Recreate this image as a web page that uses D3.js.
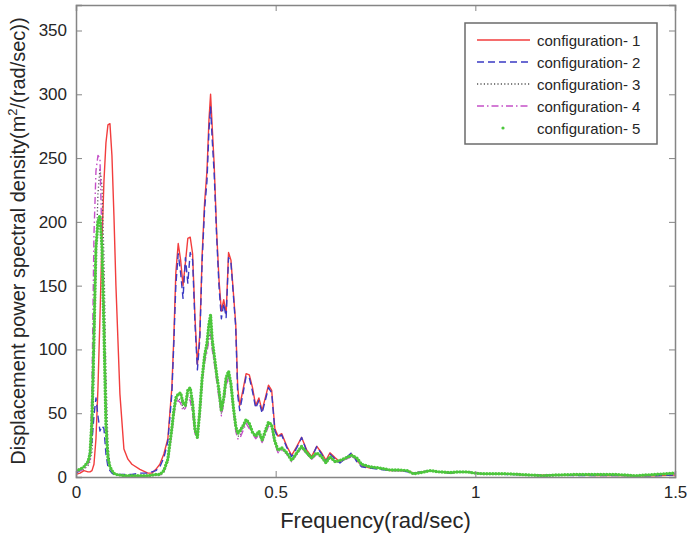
<!DOCTYPE html>
<html lang="en">
<head>
    <meta charset="UTF-8">
    <title>Displacement PSD</title>
    <script src="https://d3js.org/d3.v7.min.js"></script>
    <style>
        body {
            margin: 0;
            background: #fff;
        }
        svg text {
            font-family: "Liberation Sans", Arial, sans-serif;
            fill: #262626;
        }
        .axis path, .axis line {
            stroke: #858585;
        }
    </style>
</head>
<body>
    <div id="chart"></div>
    <script>
        // frequency grid (rad/sec), shared by all five configurations
        const freq = [
            0, 0.01, 0.02, 0.03, 0.035, 0.04, 0.045, 0.05, 0.055, 0.06, 0.065, 0.07, 0.075, 0.08, 0.085, 0.09, 0.095, 0.1, 0.11, 0.12, 0.13, 0.14, 0.16, 0.18, 0.19, 0.2,
            0.21, 0.22, 0.23, 0.24, 0.245, 0.25, 0.256, 0.262, 0.268, 0.274, 0.28, 0.286, 0.292, 0.298, 0.304, 0.31, 0.316, 0.322, 0.328, 0.333, 0.337, 0.341, 0.346, 0.352, 0.358, 0.364, 0.37, 0.376, 0.382, 0.388, 0.394, 0.4, 0.405, 0.41, 0.418, 0.426, 0.434, 0.442,
            0.45, 0.458, 0.466, 0.474, 0.482, 0.49, 0.498, 0.506, 0.515, 0.528, 0.54, 0.553, 0.565, 0.578, 0.59, 0.603, 0.615, 0.626, 0.636, 0.649, 0.661, 0.676, 0.69, 0.703, 0.715, 0.736, 0.76, 0.786, 0.81, 0.83, 0.845, 0.865, 0.886, 0.91, 0.937, 0.96, 0.98, 1.0, 1.02, 1.05, 1.08, 1.11, 1.14, 1.17, 1.2, 1.25, 1.3, 1.35, 1.4, 1.45, 1.5
        ];

        const config1 = [
            2, 3, 5, 4, 4, 5, 10, 30, 70, 125, 185, 232, 262, 276, 277, 252, 205, 150, 65, 22, 14, 10, 6, 3, 3, 6,
            10, 18, 30, 70, 110, 160, 183, 170, 150, 168, 187, 188, 175, 125, 88, 112, 175, 215, 240, 280, 300, 275, 245, 194, 155, 130, 139, 128, 176, 170, 145, 120, 70, 56, 68, 81, 80, 70,
            56, 62, 52, 62, 72, 68, 38, 32, 34, 24, 17, 24, 31, 21, 16, 24, 19, 13, 19, 15, 12, 15, 18, 13, 9, 7, 7, 5, 5, 5, 3, 4, 5, 4, 3, 4, 4, 3, 2.5, 2.5, 2.5, 2, 1.5, 1.5, 1.5, 1.5, 1.2, 1.2, 1, 1, 1.5
        ];
        const config2 = [
            3, 5, 8, 12, 20, 28, 48, 62, 48, 36, 40, 38, 18, 8, 5, 3, 2, 2, 2, 2, 2, 2, 3, 3, 4, 5,
            8, 15, 28, 65, 105, 150, 175, 160, 140, 172, 152, 176, 170, 120, 84, 108, 170, 210, 232, 272, 290, 265, 238, 190, 150, 124, 136, 125, 172, 168, 143, 117, 64, 52, 65, 79, 78, 67,
            54, 60, 50, 60, 70, 66, 36, 31, 33, 23, 16, 23, 31, 20, 15, 24, 18, 12, 18, 14, 11, 15, 19, 12, 8, 7, 6, 5, 5, 4, 3, 4, 5, 4, 3, 4, 4, 3, 2.5, 2.5, 2, 2, 1.5, 1.5, 1.5, 1.2, 1.2, 1.2, 1, 1, 1.5
        ];
        const config3 = [
            4, 5, 6, 9, 12, 20, 80, 170, 222, 242, 228, 172, 82, 26, 10, 5, 3, 2, 1.5, 1, 1, 1, 1, 1, 1.5, 2,
            1, 4, 12, 36, 50, 60, 62, 60, 54, 55, 64, 62, 52, 35, 30, 50, 76, 92, 100, 110, 115, 102, 92, 78, 64, 50, 60, 74, 80, 72, 54, 38, 32, 32, 38, 44, 40, 35,
            31, 34, 28, 34, 41, 39, 27, 20, 22, 18, 13, 18, 23, 18, 14, 18, 15, 11, 15, 12, 12, 14, 16, 14, 9, 8, 7, 5.5, 5, 4.5, 2.5, 3.5, 5, 4, 3.5, 4, 4, 3, 2.5, 2.5, 2.5, 2, 1.5, 1.2, 1.5, 1.8, 2, 1.8, 1, 1.8, 2.5
        ];
        const config4 = [
            4, 5, 6, 10, 14, 70, 190, 240, 252, 250, 185, 110, 45, 15, 8, 5, 3, 2, 1.5, 1, 1, 1, 1, 1, 1.5, 2,
            1, 4, 12, 35, 48, 58, 60, 58, 52, 54, 62, 60, 50, 34, 30, 48, 75, 90, 98, 108, 112, 100, 90, 76, 62, 48, 58, 72, 78, 70, 52, 36, 30, 30, 36, 42, 38, 34,
            30, 33, 27, 33, 40, 38, 26, 19, 21, 18, 12, 18, 23, 18, 14, 18, 15, 11, 15, 12, 12, 14, 16, 14, 9, 8, 7, 5.5, 5, 4.5, 2.5, 3.5, 5, 4, 3.5, 4, 4, 3, 2.5, 2.5, 2.5, 2, 1.5, 1, 1.5, 2, 2, 2, 1, 2, 3
        ];
        const config5 = [
            5, 6, 8, 12, 18, 45, 110, 180, 200, 205, 180, 115, 40, 15, 8, 5, 3, 2, 1.5, 1, 1, 1, 1, 1, 1.5, 2,
            2, 5, 14, 38, 52, 62, 65, 66, 58, 56, 68, 70, 58, 37, 31, 52, 78, 95, 105, 120, 127, 108, 96, 81, 68, 52, 62, 78, 83, 73, 55, 40, 34, 36, 40, 45, 42, 35,
            32, 36, 29, 36, 43, 41, 28, 21, 23, 19, 13, 19, 24, 19, 15, 19, 16, 11, 16, 12, 13, 15, 17, 15, 10, 8, 7, 5.5, 5.5, 5, 2.5, 3.5, 5, 4, 3.5, 4, 4, 3, 2.5, 2.5, 2.5, 2, 1.5, 1, 1.5, 2, 2, 2, 1, 2, 3
        ];

        const xTicks = [0, 0.5, 1, 1.5];
        const yTicks = [0, 50, 100, 150, 200, 250, 300, 350];
        const labels = ["configuration- 1", "configuration- 2", "configuration- 3", "configuration- 4", "configuration- 5"];

        const width = 688, height = 539;
        const margin = { top: 5, right: 13, bottom: 62, left: 76 };

        const svg = d3.select("#chart").append("svg")
            .attr("width", width)
            .attr("height", height);

        const x = d3.scaleLinear().domain([0, 1.5]).range([margin.left, width - margin.right]);
        const y = d3.scaleLinear().domain([0, 370]).range([height - margin.bottom, margin.top]);

        svg.append("clipPath").attr("id", "plotClip")
            .append("rect")
            .attr("x", x(0)).attr("y", y(370))
            .attr("width", x(1.5) - x(0)).attr("height", y(0) - y(370));

        // series styles, MATLAB-like
        const series = [
            { name: labels[0], values: config1, color: "#f23d3d", dash: null, width: 1.4 },
            { name: labels[1], values: config2, color: "#3a3ac4", dash: "7,4", width: 1.4 },
            { name: labels[2], values: config3, color: "#555", dash: "1.2,2.2", width: 1.3 },
            { name: labels[3], values: config4, color: "#c550c8", dash: "7,3,1.5,3", width: 1.4 },
            { name: labels[4], values: config5, color: "#4cc73c", dash: "0,3", width: 3.4, cap: "round" }
        ];

        const line = d3.line()
            .x((d, i) => x(freq[i]))
            .y(d => y(d));

        const plot = svg.append("g").attr("clip-path", "url(#plotClip)");
        series.forEach(s => {
            plot.append("path")
                .datum(s.values)
                .attr("d", line)
                .attr("fill", "none")
                .attr("stroke", s.color)
                .attr("stroke-width", s.width)
                .attr("stroke-dasharray", s.dash)
                .attr("stroke-linecap", s.cap || "butt")
                .attr("stroke-linejoin", "round");
        });

        // axes, ticks pointing inward on all four sides
        const fmt = d => String(d);
        svg.append("g").attr("class", "axis")
            .attr("transform", `translate(0,${y(0)})`)
            .call(d3.axisBottom(x).tickValues(xTicks).tickSize(-6).tickPadding(9).tickFormat(fmt))
            .call(g => g.selectAll("text").style("font-size", "17px"));
        svg.append("g").attr("class", "axis")
            .attr("transform", `translate(${x(0)},0)`)
            .call(d3.axisLeft(y).tickValues(yTicks).tickSize(-6).tickPadding(9).tickFormat(fmt))
            .call(g => g.selectAll("text").style("font-size", "17px"));
        svg.append("g").attr("class", "axis")
            .attr("transform", `translate(0,${y(370)})`)
            .call(d3.axisTop(x).tickValues(xTicks).tickSize(-6).tickFormat(""));
        svg.append("g").attr("class", "axis")
            .attr("transform", `translate(${x(1.5)},0)`)
            .call(d3.axisRight(y).tickValues(yTicks).tickSize(-6).tickFormat(""));
        svg.selectAll(".axis path").attr("stroke-width", 1.5);

        // axis titles
        svg.append("text")
            .attr("x", (x(0) + x(1.5)) / 2)
            .attr("y", 528)
            .attr("text-anchor", "middle")
            .style("font-size", "22px")
            .text("Frequency(rad/sec)");

        const yTitle = svg.append("text")
            .attr("transform", `translate(25,${(y(0) + y(370)) / 2}) rotate(-90)`)
            .attr("text-anchor", "middle")
            .style("font-size", "20px");
        yTitle.append("tspan").text("Displacement power spectral density(m");
        yTitle.append("tspan").attr("dy", -8).style("font-size", "13px").text("2");
        yTitle.append("tspan").attr("dy", 8).text("/(rad/sec))");

        // legend
        const legend = svg.append("g").attr("transform", "translate(465,23)");
        legend.append("rect")
            .attr("width", 192).attr("height", 121)
            .attr("fill", "#fff").attr("stroke", "#6b6b6b").attr("stroke-width", 1.5);
        series.forEach((s, i) => {
            const ly = 17 + i * 22;
            if (i < 4) {
                legend.append("line")
                    .attr("x1", 12).attr("x2", 65)
                    .attr("y1", ly).attr("y2", ly)
                    .attr("stroke", s.color)
                    .attr("stroke-width", s.width)
                    .attr("stroke-dasharray", s.dash);
            } else {
                legend.append("circle")
                    .attr("cx", 38).attr("cy", ly)
                    .attr("r", 1.6).attr("fill", s.color);
            }
            legend.append("text")
                .attr("x", 72).attr("y", ly + 5.5)
                .style("font-size", "15px")
                .text(s.name);
        });
    </script>
</body>
</html>
